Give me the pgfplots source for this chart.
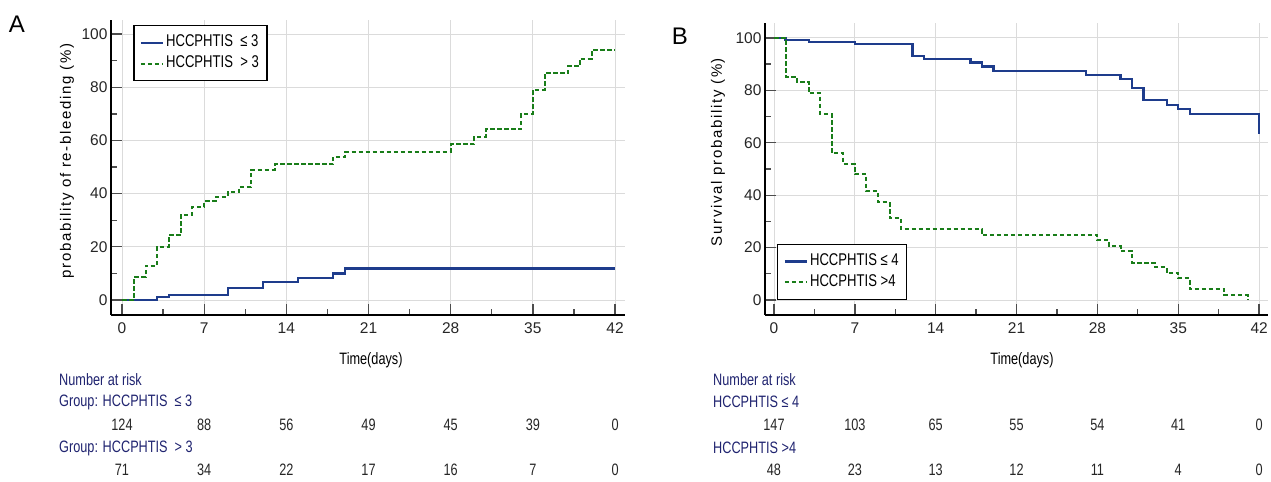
\documentclass[border=0pt]{standalone}
\usepackage{pgfplots}
\pgfplotsset{compat=1.18}
\usepackage{fontspec}
\setmainfont{Liberation Sans}[FakeStretch=0.77]
\newfontfamily\tickfont{Liberation Sans}
\newfontfamily\labfont{Liberation Sans}[LetterSpace=11]

\definecolor{kmblue}{RGB}{30,60,140}
\definecolor{kmgreen}{RGB}{25,125,25}
\definecolor{riskblue}{RGB}{32,36,112}

\pgfplotsset{
  km/.style={
    scale only axis, anchor=south west,
    axis x line*=bottom, axis y line*=left,
    axis line style={-, line width=2bp, black},
    xtick={0,7,...,42}, ytick={0,20,...,100},
    minor x tick num=1, minor y tick num=1,
    tick align=inside, major tick length=11bp, minor tick length=6bp,
    tick style={black!70, line width=1.3bp},
    grid=major, major grid style={black!14, line width=0.9bp},
    /pgf/number format/assume math mode=true,
    ticklabel style={font=\tickfont\fontsize{15.5bp}{17bp}\selectfont, text=black!85},
    xticklabel style={yshift=-4bp},
    legend cell align=left,
    legend image code/.code={\draw[##1] (0bp,0bp) -- (22bp,0bp);},
    legend style={draw=black, line width=1.4bp, fill=white,
      font=\fontsize{17bp}{18bp}\selectfont, inner xsep=6bp, inner ysep=7bp,
      row sep=1bp, nodes={inner sep=2bp, text height=12bp, text depth=4bp}},
  },
  s1/.style={const plot, kmblue, line width=2.3bp},
  s2/.style={const plot, kmgreen, line width=2bp, dash pattern=on 4.5bp off 2.5bp},
}

\begin{document}
\begin{tikzpicture}
\path[use as bounding box] (0,0) rectangle (1271bp,482bp);

% A: re-bleeding
\begin{axis}[km, at={(111bp,167bp)}, width=514bp, height=295bp,
  xmin=-0.94, xmax=42.85, ymin=-5.64, ymax=105.3,
  legend style={at={(0.043,0.983)}, anchor=north west}]
\addplot[s1] coordinates {
  (0,0) (3,1) (4,2) (9,4.5) (12,6.8) (15,8.4) (18,10) (19,11.9) (42,11.9)};
\addlegendentry{HCCPHTIS\ \ ≤ 3}
\addplot[s2] coordinates {
  (0,0) (1,8.6) (2,12.9) (3,20) (4,24.4) (5,32) (6,35) (7,37.2) (8,38.8)
  (9,40.7) (10,42.6) (11,49) (13,51) (18,53.9) (19,55.8) (28,58.5)
  (30,61.4) (31,64.2) (34,70) (35,79) (36,85.2) (38,88) (39,90.8)
  (40,94) (42,94)};
\addlegendentry{HCCPHTIS\ \ > 3}
\end{axis}

% B: survival
\begin{axis}[km, at={(765bp,167bp)}, width=503bp, height=292bp,
  xmin=-0.78, xmax=42.77, ymin=-5.73, ymax=105.7,
  legend style={at={(0.024,0.051)}, anchor=south west}]
\addplot[s1] coordinates {
  (0,100) (1,99.1) (3,98.5) (7,97.7) (12,93.1) (13,91.9) (17,90.6)
  (18,89.1) (19,87.4) (27,85.9) (30,84.2) (31,81) (32,76.3) (34,74.4)
  (35,72.8) (36,70.9) (42,70.9) (42,63.3)};
\addlegendentry{HCCPHTIS ≤ 4}
\addplot[s2] coordinates {
  (0,100) (1,85.2) (2,83.3) (3,78.9) (4,70.9) (5,56) (6,51.9) (7,48)
  (8,41.6) (9,37.3) (10,31.2) (11,27) (18,24.8) (28,22.9) (29,20.6)
  (30,18.7) (31,14.2) (33,12.5) (34,10.2) (35,8.3) (36,4.1) (39,1.9)
  (41,0)};
\addlegendentry{HCCPHTIS >4}
\end{axis}

% labels and number-at-risk tables (pixel layout, y downwards)
\begin{scope}[x=1bp, y=-1bp, yshift=482bp]
\node[font=\tickfont\fontsize{24bp}{24bp}\selectfont] at (17,24) {A};
\node[font=\tickfont\fontsize{24bp}{24bp}\selectfont] at (680,36) {B};
\node[rotate=90, font=\labfont\fontsize{15bp}{15bp}\selectfont] at (67,161) {probability of re-bleeding (\%)};
\node[rotate=90, font=\labfont\fontsize{15bp}{15bp}\selectfont] at (718,152) {Survival probability (\%)};

\begin{scope}[every node/.style={font=\fontsize{16.5bp}{17bp}\selectfont}]
\node at (371,360) {Time(days)};
\node at (1022,360) {Time(days)};
\begin{scope}[every node/.append style={anchor=west, inner sep=0pt, text=riskblue}]
\node at (59,380) {Number at risk};
\node at (59,402) {Group: HCCPHTIS\ \ ≤ 3};
\node at (59,448) {Group: HCCPHTIS\ \ > 3};
\node at (713,380) {Number at risk};
\node at (713,402) {HCCPHTIS ≤ 4};
\node at (713,448) {HCCPHTIS >4};
\end{scope}
\begin{scope}[every node/.append style={text=black!85}]
\foreach \n [count=\i from 0] in {124,88,56,49,45,39,0}
  \node at ({122+82.18*\i},425) {\n};
\foreach \n [count=\i from 0] in {71,34,22,17,16,7,0}
  \node at ({122+82.18*\i},470) {\n};
\foreach \n [count=\i from 0] in {147,103,65,55,54,41,0}
  \node at ({774+80.85*\i},425) {\n};
\foreach \n [count=\i from 0] in {48,23,13,12,11,4,0}
  \node at ({774+80.85*\i},470) {\n};
\end{scope}
\end{scope}
\end{scope}
\end{tikzpicture}
\end{document}
